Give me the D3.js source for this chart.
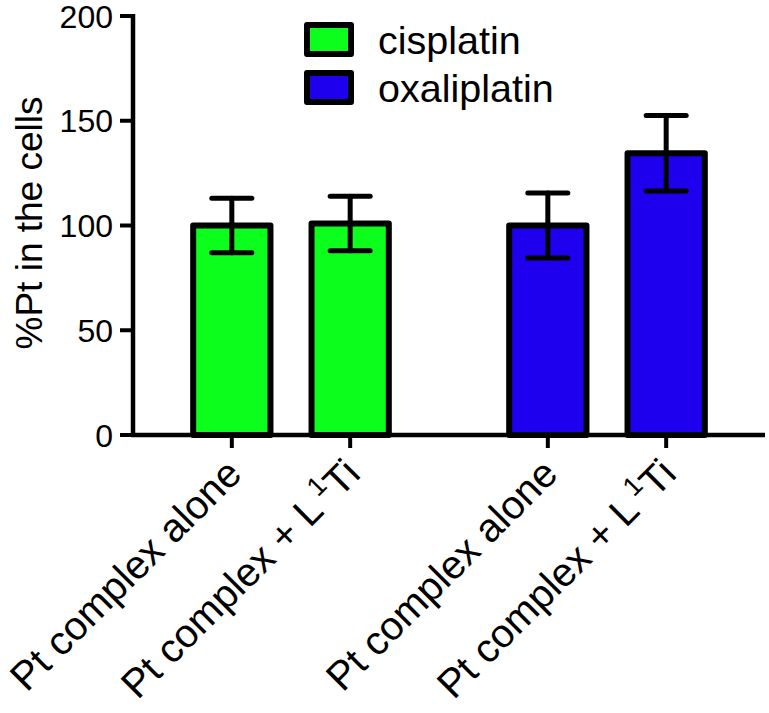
<!DOCTYPE html>
<html><head><meta charset="utf-8">
<script src="https://cdn.jsdelivr.net/npm/d3@7"></script>
<style>body{margin:0;background:#fff}svg text{font-family:"Liberation Sans",Arial,sans-serif;fill:#000}</style>
</head><body>
<svg id="c" width="769" height="713"></svg>
<script>
const groups = ["cisplatin", "oxaliplatin"];
const conditions = ["Pt complex alone", "Pt complex + L1Ti"];
const cisplatinMeans = [100, 101];
const cisplatinErrors = [13, 13];
const oxaliplatinMeans = [100, 134.5];
const oxaliplatinErrors = [15.5, 18];
const yTicks = [0, 50, 100, 150, 200];
const colors = ["#0cff1c", "#1e00ee"];

const data = [];
groups.forEach((g, gi) => {
  const m = gi === 0 ? cisplatinMeans : oxaliplatinMeans;
  const e = gi === 0 ? cisplatinErrors : oxaliplatinErrors;
  conditions.forEach((c, ci) => data.push({group: g, cond: c, ci, value: m[ci], err: e[ci], color: colors[gi]}));
});

const svg = d3.select("#c");
const x0 = 133, x1 = 765, yB = 435, yT = 16;
const y = d3.scaleLinear().domain([0, 200]).range([yB, yT]);
const xg = d3.scaleBand().domain(groups).range([x0, x1]).paddingInner(0.2).paddingOuter(0.1);
const xi = d3.scaleBand().domain(d3.range(conditions.length)).range([0, xg.bandwidth()]).paddingInner(0.347).paddingOuter(0.2415);
const cx = d => xg(d.group) + xi(d.ci) + xi.bandwidth() / 2;

// bars
svg.selectAll("rect.bar").data(data).enter().append("rect")
  .attr("x", d => xg(d.group) + xi(d.ci)).attr("width", xi.bandwidth())
  .attr("y", d => y(d.value)).attr("height", d => y(0) - y(d.value))
  .attr("fill", d => d.color).attr("stroke", "#000").attr("stroke-width", 6).attr("stroke-linejoin", "round");

// error bars (upper and lower)
const eb = svg.append("g").attr("stroke", "#000").attr("stroke-width", 5).attr("stroke-linecap", "round");
data.forEach(d => {
  const c = cx(d);
  eb.append("line").attr("x1", c).attr("x2", c).attr("y1", y(d.value + d.err)).attr("y2", y(d.value - d.err));
  [d.value + d.err, d.value - d.err].forEach(v => eb.append("line").attr("x1", c - 20).attr("x2", c + 20).attr("y1", y(v)).attr("y2", y(v)));
});

// axes
const ax = svg.append("g").attr("stroke", "#000").attr("stroke-width", 4.5);
ax.append("line").attr("x1", x0).attr("x2", x0).attr("y1", yT - 2).attr("y2", yB + 2);
ax.append("line").attr("x1", x0 - 2).attr("x2", x1).attr("y1", yB).attr("y2", yB);
yTicks.forEach(t => ax.append("line").attr("x1", x0 - 13).attr("x2", x0).attr("y1", y(t)).attr("y2", y(t)).attr("stroke-width", 4));
data.forEach(d => ax.append("line").attr("x1", cx(d)).attr("x2", cx(d)).attr("y1", yB).attr("y2", yB + 13).attr("stroke-width", 4));

svg.selectAll("text.yt").data(yTicks).enter().append("text")
  .attr("x", 113).attr("y", d => y(d)).attr("dy", "0.36em").attr("text-anchor", "end")
  .attr("font-size", 32).text(d => d);

svg.append("text").attr("transform", "translate(42,223) rotate(-90)").attr("text-anchor", "middle")
  .attr("font-size", 37).text("%Pt in the cells");

// x labels
data.forEach(d => {
  const t = svg.append("text").attr("transform", `translate(${cx(d) + 12},${yB + 41}) rotate(-45)`)
    .attr("text-anchor", "end").attr("font-size", 40);
  if (d.ci === 0) t.text(d.cond);
  else {
    t.append("tspan").text("Pt complex + L");
    t.append("tspan").attr("font-size", 27).attr("dx", 5).attr("dy", -16).text("1");
    t.append("tspan").attr("dy", 16).text("Ti");
  }
});

// legend
const lg = svg.append("g");
groups.forEach((g, i) => {
  lg.append("rect").attr("x", 307).attr("y", 25 + i * 48).attr("width", 44).attr("height", 29)
    .attr("fill", colors[i]).attr("stroke", "#000").attr("stroke-width", 6).attr("stroke-linejoin", "round");
  lg.append("text").attr("x", 378).attr("y", 54 + i * 48).attr("font-size", 39.5).text(g);
});
</script>
</body></html>
